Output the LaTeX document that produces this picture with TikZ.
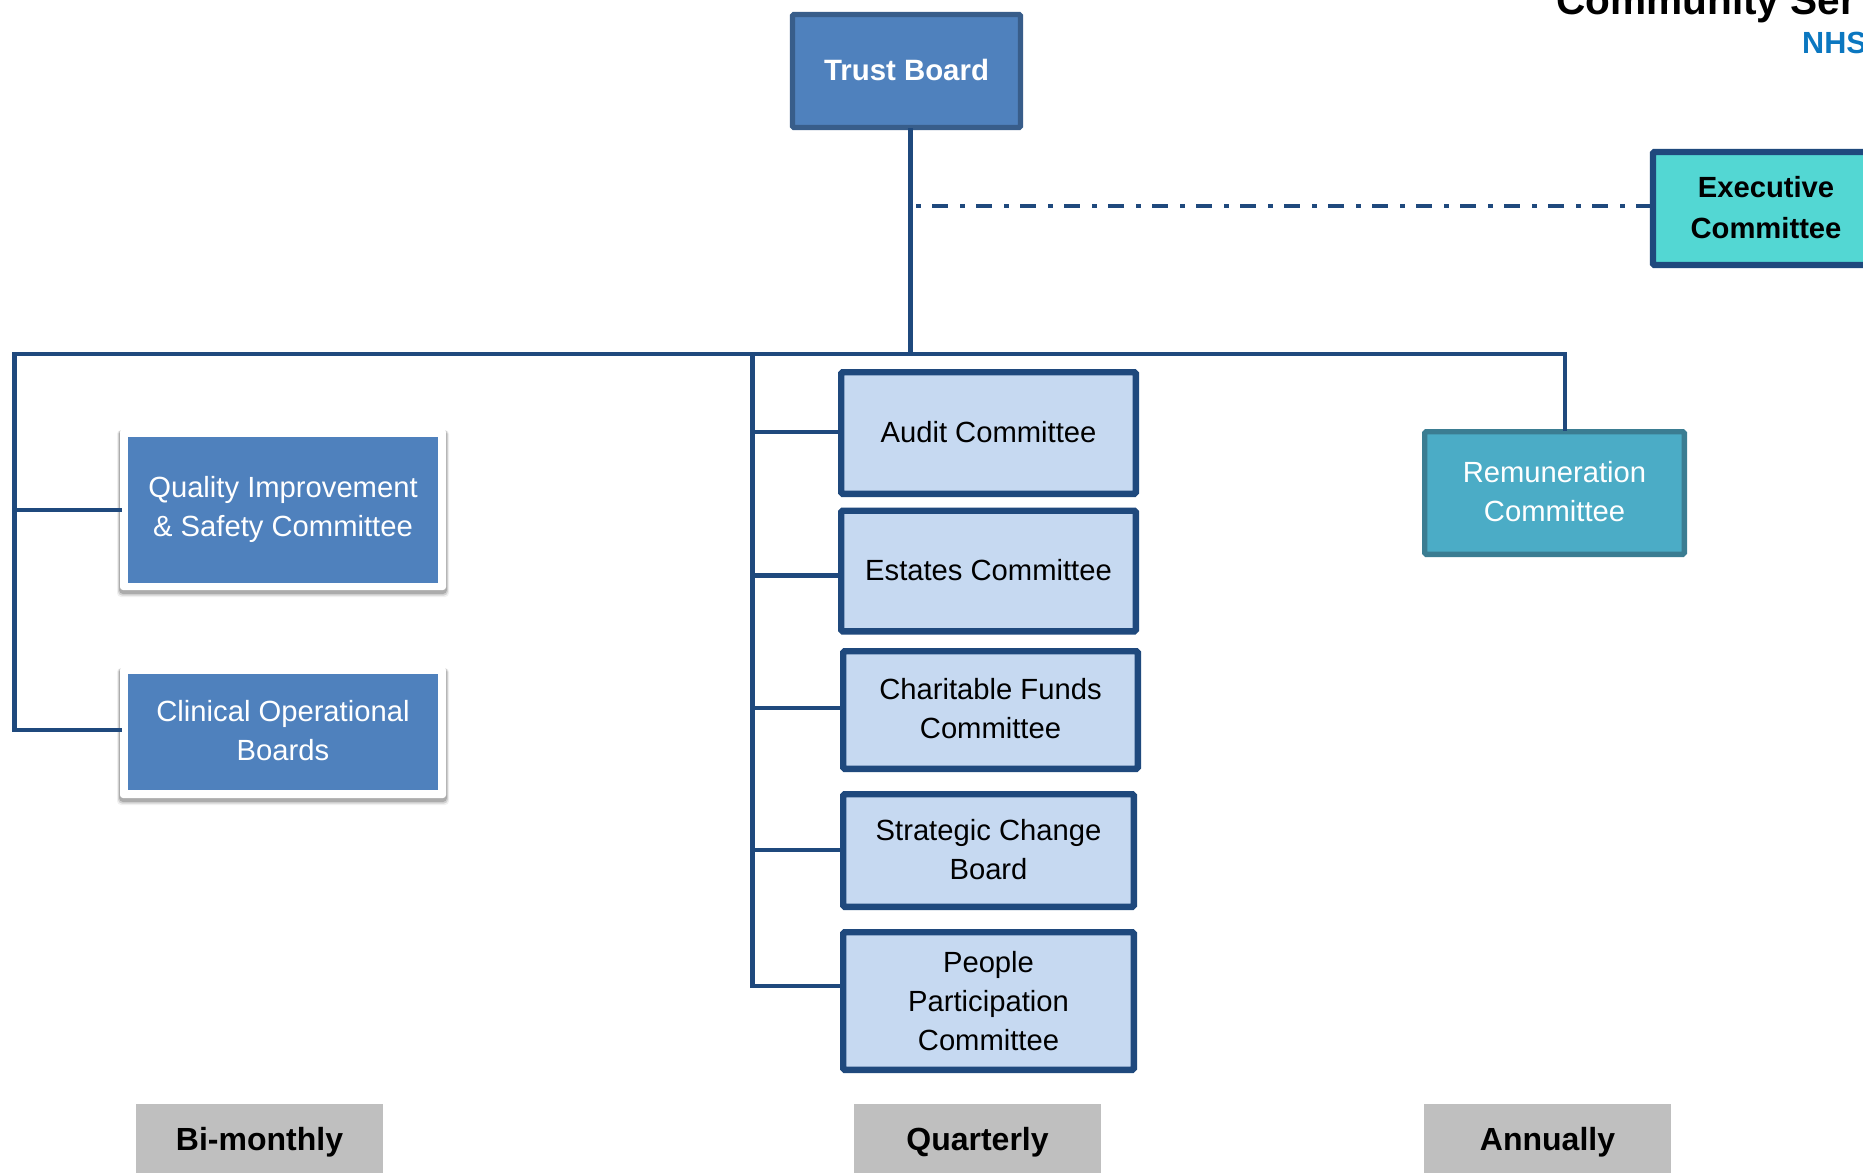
\documentclass[tikz,border=0pt]{standalone}
\usepackage{fontspec}
\setmainfont{Liberation Sans}
\definecolor{linkblue}{HTML}{1F497D}
\definecolor{midblue}{HTML}{4F81BD}
\definecolor{midedge}{HTML}{385D8A}
\definecolor{paleblue}{HTML}{C6D9F1}
\definecolor{aqua}{HTML}{53D7D3}
\definecolor{teal1}{HTML}{4BACC6}
\definecolor{teal2}{HTML}{3B7D92}
\definecolor{greybar}{HTML}{BFBFBF}
\definecolor{nhsblue}{HTML}{0B77C0}
\newcommand\tp{\rule{0pt}{22pt}}
\newcommand\bt{\rule[-3.4pt]{0pt}{0pt}}
\tikzset{
  x=1pt,y=-1pt,
  boxbase/.style={rectangle,inner sep=0pt,align=center,rounded corners=1.5pt,
    font=\fontsize{29.2}{39}\selectfont},
  trustbox/.style={boxbase,fill=midblue,draw=midedge,line width=5.4pt,text=white,
    font=\fontsize{29.4}{39}\selectfont\bfseries},
  execbox/.style={boxbase,fill=aqua,draw=linkblue,line width=6.4pt,text=black,
    font=\fontsize{29.2}{41}\selectfont\bfseries},
  palebox/.style={boxbase,fill=paleblue,draw=linkblue,line width=6.4pt,text=black},
  tealbox/.style={boxbase,fill=teal1,draw=teal2,line width=5.4pt,text=white},
  frame/.style={rectangle,inner sep=0pt,fill=white,rounded corners=3pt},
  softshade/.style={fill=black,rounded corners=4pt},
  solidblue/.style={boxbase,rounded corners=0pt,fill=midblue,text=white},
  greylabel/.style={rectangle,inner sep=0pt,fill=greybar,text=black,text height=30pt,text depth=6.5pt,
    font=\fontsize{32}{38}\selectfont\bfseries},
  link/.style={draw=linkblue,line width=4.4pt,line cap=rect},
  dashlink/.style={draw=linkblue,line width=4.4pt,dash pattern=on 4.5pt off 11.5pt on 16pt off 12pt}
}
\begin{document}
\begin{tikzpicture}
\clip (0,0) rectangle (1863,1173);
\fill[white] (0,0) rectangle (1863,1173);
% cut-off page heading
\node[anchor=base west,inner sep=0pt,font=\fontsize{40.6}{44}\selectfont\bfseries] (heading) at (1556,14) {Community Ser};
\node[anchor=base west,inner sep=0pt,text=nhsblue,font=\fontsize{30.6}{34}\selectfont\bfseries] (nhs) at (1802,53) {NHS};
% soft shadows of the two framed boxes
\foreach \ya/\yb in {430/590,668/798}{
  \fill[softshade,opacity=.06] (117,\ya) rectangle (449,\yb+7);
  \fill[softshade,opacity=.12] (118,\ya) rectangle (448,\yb+5.5);
  \fill[softshade,opacity=.18] (119,\ya) rectangle (447,\yb+4);
}
% boxes
\node[trustbox,minimum width=228pt,minimum height=113pt] (trust) at (906.5,71) {\tp Trust Board\bt};
\node[execbox,minimum width=226pt,minimum height=113pt] (exec) at (1766,208.5) {\tp Executive\\Committee\bt};
\node[frame,minimum width=326pt,minimum height=161pt] (qualityframe) at (283,509.5) {};
\node[solidblue,minimum width=310pt,minimum height=146pt] (quality) at (283,509.5) {\tp Quality Improvement\\\& Safety Committee\bt};
\node[frame,minimum width=326pt,minimum height=131pt] (clinicalframe) at (283,732.5) {};
\node[solidblue,minimum width=310pt,minimum height=116pt] (clinical) at (283,732) {\tp Clinical Operational\\Boards\bt};
\node[palebox,minimum width=294.6pt,minimum height=121.6pt] (audit) at (988.5,433) {\tp Audit Committee\bt};
\node[palebox,minimum width=294.6pt,minimum height=120.6pt] (estates) at (988.5,571) {\tp Estates Committee\bt};
\node[palebox,minimum width=294.6pt,minimum height=117.6pt] (charity) at (990.5,710) {\tp Charitable Funds\\Committee\bt};
\node[palebox,minimum width=290.6pt,minimum height=112.6pt] (change) at (988.5,850.5) {\tp Strategic Change\\Board\bt};
\node[palebox,minimum width=290.6pt,minimum height=137.6pt] (people) at (988.5,1001) {\rule{0pt}{23pt}People\\Participation\\Committee\rule[-2.2pt]{0pt}{0pt}};
\node[tealbox,minimum width=259.6pt,minimum height=122.6pt] (remun) at (1554.5,493) {\tp Remuneration\\Committee\bt};
\node[greylabel,minimum width=247.5pt,minimum height=69pt] (bimonthly) at (259.5,1138.5) {Bi-monthly};
\node[greylabel,minimum width=247.5pt,minimum height=69pt] (quarterly) at (977.5,1138.5) {Quarterly};
\node[greylabel,minimum width=247.5pt,minimum height=69pt] (annually) at (1547.5,1138.5) {Annually};
% connector helpers
\coordinate (busleft) at (14.5,354);
\coordinate (busmid) at (752.5,354);
\coordinate (bustrust) at (910.5,354);
\coordinate (busright) at (1565,354);
\coordinate (dashstart) at (916,206);
\coordinate (midqual) at (14.5,510);
\coordinate (midclin) at (14.5,730);
\coordinate (midaudit) at (752.5,432);
\coordinate (midest) at (752.5,575.5);
\coordinate (midchar) at (752.5,708);
\coordinate (midchange) at (752.5,850);
\coordinate (midpeople) at (752.5,986);
% connectors
\draw[link] (bustrust |- trust.south) -- (bustrust);
\draw[link] (busleft) -- (busright);
\draw[link] (busright) -- (busright |- remun.north);
\draw[link] (busleft) -- (midclin);
\draw[link] (midqual) -- (midqual -| qualityframe.west);
\draw[link] (midclin) -- (midclin -| clinicalframe.west);
\draw[link] (busmid) -- (midpeople);
\draw[link] (midaudit) -- (midaudit -| audit.west);
\draw[link] (midest) -- (midest -| estates.west);
\draw[link] (midchar) -- (midchar -| charity.west);
\draw[link] (midchange) -- (midchange -| change.west);
\draw[link] (midpeople) -- (midpeople -| people.west);
\draw[dashlink] (dashstart) -- (dashstart -| exec.west);
\end{tikzpicture}
\end{document}
